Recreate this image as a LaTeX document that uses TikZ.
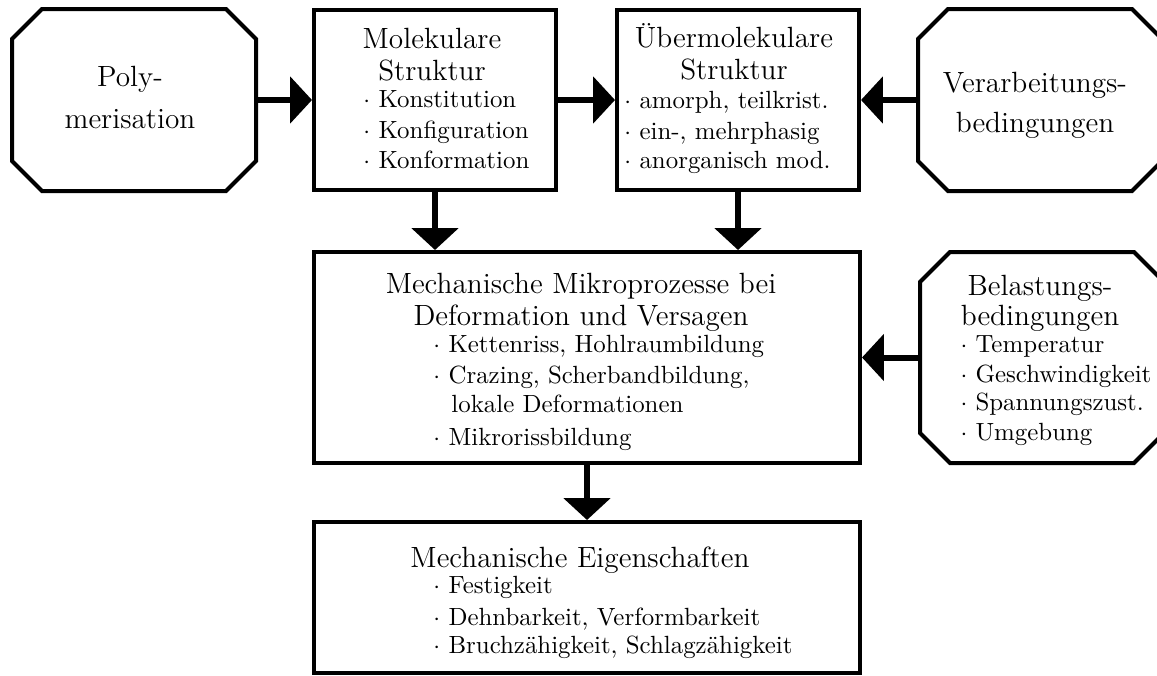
\documentclass[tikz,border=0pt]{standalone}
\usepackage{fontspec}
\usetikzlibrary{arrows.meta}
\begin{document}
\begin{tikzpicture}[x=0.41pt,y=-0.41pt,
  box/.style={draw, line width=1.64pt, rectangle, inner sep=0pt},
  oct/.style={rectangle, line width=1.64pt, inner sep=0pt, outer sep=0pt},
  octline/.style={draw, line width=1.64pt, line join=miter},
  ttl/.style={font=\fontsize{12}{14}\selectfont, inner sep=0pt, anchor=base},
  itm/.style={font=\fontsize{10.2}{12}\selectfont, inner sep=0pt, anchor=base west},
  arr/.style={line width=2.46pt, -{Triangle[length=9pt,width=18.9pt]}}]
\useasboundingbox (0,0) rectangle (1157,675);
% boxes
\node[oct, minimum width=100.04pt, minimum height=74.62pt] (poly) at (134,100) {};
\node[box, minimum width=99.22pt, minimum height=73.8pt] (molek) at (435,100) {};
\node[box, minimum width=99.22pt, minimum height=73.8pt] (ueber) at (738,100) {};
\node[oct, minimum width=100.04pt, minimum height=74.62pt] (verarb) at (1040,100) {};
\node[box, minimum width=223.86pt, minimum height=86.51pt] (mikro) at (587,357.5) {};
\node[oct, minimum width=100.04pt, minimum height=86.51pt] (belast) at (1042,357.5) {};
\node[box, minimum width=223.86pt, minimum height=61.91pt] (eigen) at (587,597.5) {};
\foreach \n in {poly,verarb,belast}
  \draw[octline] ([xshift=12.3pt]\n.north west) -- ([xshift=-12.3pt]\n.north east)
    -- ([yshift=-12.3pt]\n.north east) -- ([yshift=12.3pt]\n.south east)
    -- ([xshift=-12.3pt]\n.south east) -- ([xshift=12.3pt]\n.south west)
    -- ([yshift=12.3pt]\n.south west) -- ([yshift=-12.3pt]\n.north west) -- cycle;
% texts
\node[ttl] (t1) at (130,86) {Poly-};
\node[ttl] (t2) at (130,128) {merisation};
\node[ttl] (t3) at (432,48) {Molekulare};
\node[ttl] (t4) at (432,80) {Struktur};
\node[itm] (t5) at (363,107) {$\cdot$ Konstitution};
\node[itm] (t6) at (363,138) {$\cdot$ Konfiguration};
\node[itm] (t7) at (363,168) {$\cdot$ Konformation};
\node[ttl] (t8) at (734,47) {Übermolekulare};
\node[ttl] (t9) at (734,79) {Struktur};
\node[itm] (t10) at (624,108) {$\cdot$ amorph, teilkrist.};
\node[itm] (t11) at (624,139) {$\cdot$ ein-, mehrphasig};
\node[itm] (t12) at (624,168) {$\cdot$ anorganisch mod.};
\node[ttl] (t13) at (1035,92) {Verarbeitungs-};
\node[ttl] (t14) at (1035,132) {bedingungen};
\node[ttl] (t15) at (581,293) {Mechanische Mikroprozesse bei};
\node[ttl] (t16) at (581,325) {Deformation und Versagen};
\node[itm] (t17) at (433,352) {$\cdot$ Kettenriss, Hohlraumbildung};
\node[itm] (t18) at (433,383) {$\cdot$ Crazing, Scherbandbildung,};
\node[itm] (t19) at (451,412) {lokale Deformationen};
\node[itm] (t20) at (433,445) {$\cdot$ Mikrorissbildung};
\node[ttl] (t21) at (1040,295) {Belastungs-};
\node[ttl] (t22) at (1040,325) {bedingungen};
\node[itm] (t23) at (960,352) {$\cdot$ Temperatur};
\node[itm] (t24) at (960,382) {$\cdot$ Geschwindigkeit};
\node[itm] (t25) at (960,410) {$\cdot$ Spannungszust.};
\node[itm] (t26) at (960,440) {$\cdot$ Umgebung};
\node[ttl] (t27) at (580,567) {Mechanische Eigenschaften};
\node[itm] (t28) at (433,593) {$\cdot$ Festigkeit};
\node[itm] (t29) at (433,625) {$\cdot$ Dehnbarkeit, Verformbarkeit};
\node[itm] (t30) at (433,653) {$\cdot$ Bruchzähigkeit, Schlagzähigkeit};
% arrows
\draw[arr] (poly.east) -- (molek.west);
\draw[arr] (molek.east) -- (ueber.west);
\draw[arr] (verarb.west) -- (ueber.east);
\draw[arr] (molek.south) -- (molek.south |- mikro.north);
\draw[arr] (ueber.south) -- (ueber.south |- mikro.north);
\draw[arr] (belast.west) -- (mikro.east);
\draw[arr] (mikro.south) -- (eigen.north);
\end{tikzpicture}
\end{document}
